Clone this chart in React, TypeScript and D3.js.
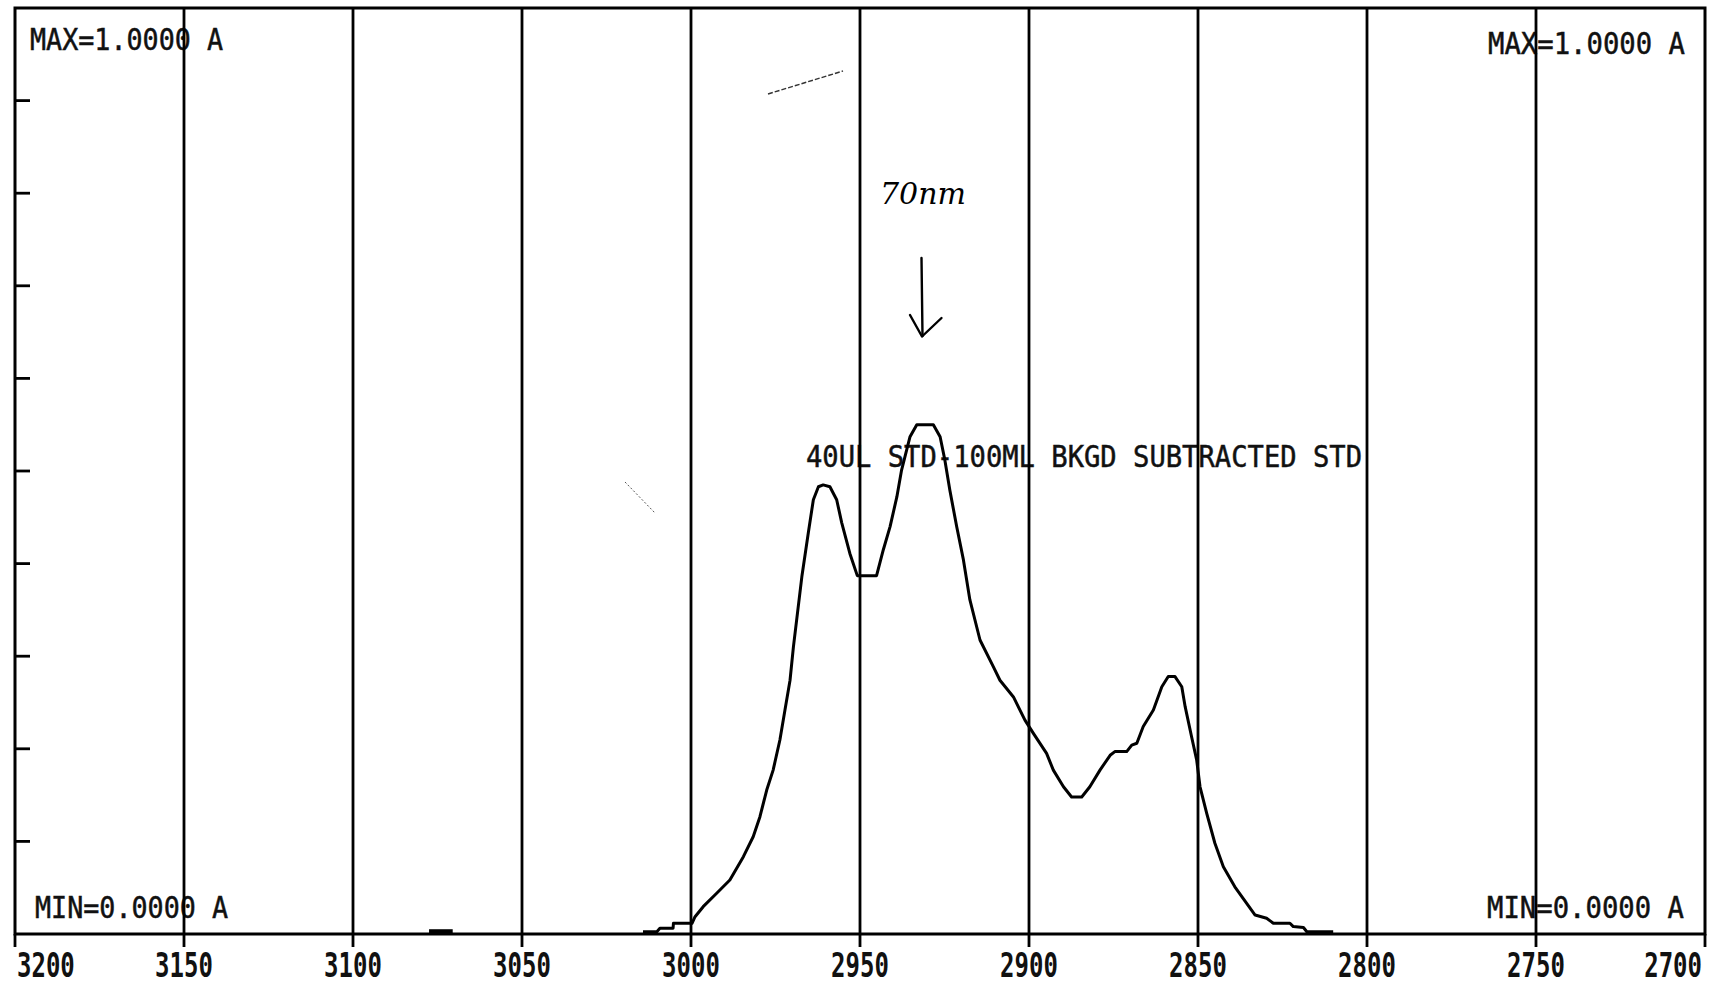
import React from "react";
import * as d3 from "d3";

// ---- data ----
const xTickValues = [3200, 3150, 3100, 3050, 3000, 2950, 2900, 2850, 2800, 2750, 2700];
const yTickValues = [0.1, 0.2, 0.3, 0.4, 0.5, 0.6, 0.7, 0.8, 0.9];

const wavenumber = [
  3014.2, 3010.1, 3009.2, 3005.3, 3005.2, 2999.7, 2998.8, 2996.4, 2992.4, 2988.5,
  2984.5, 2981.6, 2979.6, 2977.6, 2975.7, 2973.7, 2972.2, 2970.7, 2969.7, 2967.2,
  2965.3, 2963.8, 2962.3, 2960.9, 2958.9, 2956.9, 2955.4, 2953.0, 2950.8, 2945.1,
  2943.1, 2941.1, 2939.1, 2937.7, 2935.2, 2933.2, 2928.3, 2926.3, 2924.9, 2923.4,
  2921.4, 2919.4, 2917.5, 2914.5, 2910.6, 2908.6, 2904.6, 2901.2, 2898.7, 2894.8,
  2892.8, 2889.8, 2887.4, 2884.4, 2882.0, 2879.0, 2876.0, 2874.6, 2871.1, 2869.6,
  2868.1, 2866.2, 2863.2, 2860.7, 2858.8, 2856.8, 2854.8, 2853.8, 2851.9, 2850.4,
  2849.4, 2847.4, 2845.0, 2842.5, 2839.1, 2835.6, 2833.1, 2829.7, 2827.7, 2822.8,
  2821.8, 2818.8, 2817.8, 2810.0,
];
const absorbance = [
  0.0025, 0.0025, 0.0062, 0.0062, 0.0116, 0.0116, 0.0187, 0.0295, 0.044, 0.0583,
  0.0835, 0.105, 0.1267, 0.1555, 0.177, 0.2095, 0.242, 0.274, 0.31, 0.386,
  0.433, 0.469, 0.483, 0.485, 0.483, 0.469, 0.444, 0.411, 0.387, 0.387,
  0.415, 0.44, 0.472, 0.501, 0.537, 0.55, 0.55, 0.537, 0.512, 0.479,
  0.44, 0.404, 0.361, 0.3175, 0.289, 0.274, 0.256, 0.231, 0.2167, 0.195,
  0.177, 0.159, 0.148, 0.148, 0.159, 0.177, 0.193, 0.197, 0.197, 0.204,
  0.206, 0.224, 0.242, 0.267, 0.278, 0.278, 0.267, 0.2455, 0.213, 0.188,
  0.159, 0.13, 0.098, 0.0727, 0.051, 0.033, 0.0205, 0.017, 0.0116, 0.0116,
  0.008, 0.007, 0.0025, 0.0025,
];

// small baseline blip near 3075
const blipWavenumber = [3077.5, 3070.5];
const blipAbsorbance = [0.003, 0.003];

const maxLabel = "MAX=1.0000 A";
const minLabel = "MIN=0.0000 A";
const titleLabel = "40UL STD-100ML BKGD SUBTRACTED STD";
const noteLabel = "70nm";

export default function App() {
  const W = 1713;
  const H = 987;
  const left = 15;
  const right = 1705;
  const top = 8;
  const bottom = 934;

  const x = d3.scaleLinear().domain([3200, 2700]).range([left, right]);
  const y = d3.scaleLinear().domain([0, 1]).range([bottom, top]);

  const pts: [number, number][] = wavenumber.map((w, i) => [x(w), y(absorbance[i])]);
  const line = d3.line().curve(d3.curveLinear);
  const pathD = line(pts) || "";
  const blipD = line(blipWavenumber.map((w, i) => [x(w), y(blipAbsorbance[i])] as [number, number])) || "";

  const font = "'DejaVu Sans Mono', 'Liberation Mono', monospace";

  return (
    <svg
      width={W}
      height={H}
      viewBox={`0 0 ${W} ${H}`}
      style={{ position: "absolute", left: 0, top: 0, display: "block", background: "#fff" }}
    >
      <rect x={0} y={0} width={W} height={H} fill="#fff" />

      {/* texts inside frame */}
      <g fontFamily={font} fill="#111" fontSize={30} stroke="#111" strokeWidth={0.5}>
        <text x={30} y={50} textLength={193} lengthAdjust="spacingAndGlyphs">{maxLabel}</text>
        <text x={1488} y={54} textLength={197} lengthAdjust="spacingAndGlyphs">{maxLabel}</text>
        <text x={35} y={918} textLength={193} lengthAdjust="spacingAndGlyphs">{minLabel}</text>
        <text x={1487} y={918} textLength={197} lengthAdjust="spacingAndGlyphs">{minLabel}</text>
        <text x={806} y={467} textLength={556} lengthAdjust="spacingAndGlyphs">{titleLabel}</text>
      </g>

      {/* vertical gridlines with ticks below axis */}
      <g stroke="#000" strokeWidth={2.8}>
        {xTickValues.slice(1, -1).map((t) => (
          <line key={t} x1={x(t)} x2={x(t)} y1={top} y2={bottom + 13} />
        ))}
      </g>

      {/* y ticks */}
      <g stroke="#000" strokeWidth={2.8}>
        {yTickValues.map((t) => (
          <line key={t} x1={left} x2={left + 15} y1={y(t)} y2={y(t)} />
        ))}
      </g>

      {/* frame */}
      <rect x={left} y={top} width={right - left} height={bottom - top} fill="none" stroke="#000" strokeWidth={3} />
      <line x1={left} x2={left} y1={bottom} y2={bottom + 13} stroke="#000" strokeWidth={2.8} />
      <line x1={right} x2={right} y1={bottom} y2={bottom + 13} stroke="#000" strokeWidth={2.8} />

      {/* x tick labels: narrow font stretched vertically */}
      <g fontFamily={font} fontWeight="bold" fill="#111" fontSize={24}>
        {xTickValues.map((t, i) => {
          const anchor = i === 0 ? "start" : i === xTickValues.length - 1 ? "end" : "middle";
          const px = i === 0 ? left + 2 : i === xTickValues.length - 1 ? right - 3 : x(t);
          return (
            <text key={t} transform={`translate(${px},977) scale(1,1.38)`} textAnchor={anchor}>
              {String(t)}
            </text>
          );
        })}
      </g>

      {/* spectrum */}
      <path d={pathD} fill="none" stroke="#000" strokeWidth={3} strokeLinejoin="round" />
      <path d={blipD} fill="none" stroke="#000" strokeWidth={4} />

      {/* handwritten annotation */}
      <text x={880} y={204} fontFamily="'DejaVu Serif', serif" fontStyle="italic" fontSize={30} fill="#000" textLength={86} lengthAdjust="spacingAndGlyphs">
        {noteLabel}
      </text>
      <g stroke="#000" strokeWidth={2.4} fill="none" strokeLinecap="round" strokeLinejoin="round">
        <line x1={921.5} y1={258} x2={922.5} y2={336} />
        <polyline points="910,315 922,336.5 941.5,318" />
      </g>

      {/* stray pen marks */}
      <line x1={768} y1={94} x2={843} y2={71} stroke="#333" strokeWidth={1.4} strokeDasharray="5 2" />
      <line x1={625} y1={482} x2={655} y2={513} stroke="#555" strokeWidth={1} strokeDasharray="2 2" />
    </svg>
  );
}
